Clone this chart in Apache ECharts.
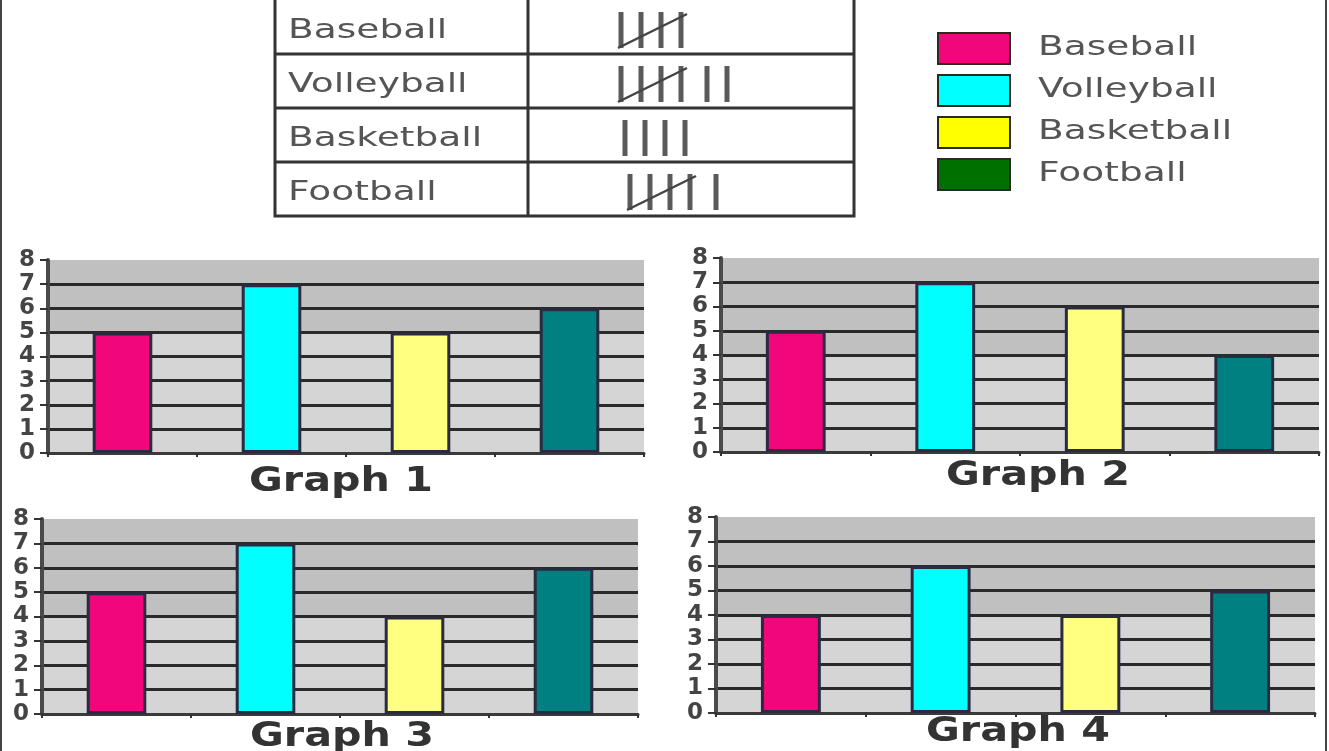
<!DOCTYPE html>
<html><head><meta charset="utf-8">
<script src="https://cdn.jsdelivr.net/npm/echarts@6/dist/echarts.min.js"></script>
<style>html,body{margin:0;padding:0;background:#fff}#chart{width:1329px;height:751px}</style>
</head><body><div id="chart"></div>
<script>
// ---- data ----
const categories = ['Baseball', 'Volleyball', 'Basketball', 'Football'];
const tallyCounts = [5, 7, 4, 6];
const graphTitles = ['Graph 1', 'Graph 2', 'Graph 3', 'Graph 4'];
const graph1Values = [5, 7, 5, 6];
const graph2Values = [5, 7, 6, 4];
const graph3Values = [5, 7, 4, 6];
const graph4Values = [4, 6, 4, 5];
const yAxisMin = 0;
const yAxisMax = 8;
const yAxisStep = 1;

// ---- styles / layout ----
const barColors = ['#f2067c', '#00ffff', '#ffff80', '#008080'];
const legendColors = ['#f2067c', '#00ffff', '#ffff00', '#007000'];
const graphValues = [graph1Values, graph2Values, graph3Values, graph4Values];
const layouts = [
  { left: 48, top: 260, width: 596, height: 193, tx: 341, ty: 482, darkFrom: 5 },
  { left: 721, top: 258, width: 598, height: 194, tx: 1038, ty: 476, darkFrom: 4 },
  { left: 42, top: 519, width: 596, height: 195, tx: 342, ty: 737, darkFrom: 4 },
  { left: 716, top: 517, width: 599, height: 196, tx: 1018, ty: 732, darkFrom: 4 }
];
const FONT = '"DejaVu Sans", Verdana, sans-serif';
const TEXT_SCALE = 1.39;

const grid = [], xAxis = [], yAxis = [], series = [], graphic = [];

layouts.forEach((L, i) => {
  grid.push({ left: L.left, top: L.top, width: L.width, height: L.height,
    show: true, backgroundColor: '#c4c4c4', borderWidth: 0 });
  const bands = [];
  for (let b = 0; b < (yAxisMax - yAxisMin) / yAxisStep; b++) bands.push(b < L.darkFrom ? '#d5d5d5' : '#c0c0c0');
  xAxis.push({ type: 'category', gridIndex: i, data: categories,
    axisLabel: { show: false },
    axisLine: { show: true, lineStyle: { color: '#3a3a3a', width: 3 } },
    axisTick: { show: true, length: 4, interval: 0, lineStyle: { color: '#333', width: 2 } },
    splitLine: { show: false } });
  yAxis.push({ type: 'value', gridIndex: i, min: yAxisMin, max: yAxisMax, interval: yAxisStep,
    axisLine: { show: true, lineStyle: { color: '#4a4a4a', width: 4 } },
    axisTick: { show: true, length: 8, lineStyle: { color: '#333', width: 2 } },
    axisLabel: { margin: 13, fontSize: 23, fontWeight: 'bold', color: '#444', fontFamily: FONT },
    splitLine: { show: true, showMaxLine: false, lineStyle: { color: '#2a2a2a', width: 3 } },
    splitArea: { show: true, areaStyle: { color: bands } } });
  series.push({ type: 'bar', xAxisIndex: i, yAxisIndex: i, barWidth: '40%', silent: true,
    itemStyle: { borderColor: '#2a2a40', borderWidth: 3 },
    data: graphValues[i].map((v, j) => ({ value: v, itemStyle: { color: barColors[j] } })) });
  graphic.push({ type: 'text', x: L.tx, y: L.ty, scaleX: 1.25,
    style: { text: graphTitles[i], font: 'bold 33px ' + FONT, fill: '#333',
      align: 'center', verticalAlign: 'middle', textAlign: 'center', textVerticalAlign: 'middle' } });
});

// ---- frame lines ----
graphic.push({ type: 'line', shape: { x1: 1, y1: 0, x2: 1, y2: 751 }, style: { stroke: '#444', lineWidth: 2 } });
graphic.push({ type: 'line', shape: { x1: 1326, y1: 0, x2: 1326, y2: 751 }, style: { stroke: '#444', lineWidth: 2 } });

// ---- tally table ----
const tableLeft = 275, tableRight = 854, tableSplit = 528, tableTop = 0, rowH = 54;
graphic.push({ type: 'rect', shape: { x: tableLeft, y: tableTop - 3, width: tableRight - tableLeft, height: rowH * 4 + 3 },
  style: { fill: 'none', stroke: '#333', lineWidth: 3 } });
graphic.push({ type: 'line', shape: { x1: tableSplit, y1: 0, x2: tableSplit, y2: rowH * 4 }, style: { stroke: '#333', lineWidth: 3 } });
for (let r = 1; r < 4; r++) {
  graphic.push({ type: 'line', shape: { x1: tableLeft, y1: tableTop + r * rowH, x2: tableRight, y2: tableTop + r * rowH },
    style: { stroke: '#333', lineWidth: 3 } });
}
const tallyLeft = 621, tallyStep = 20, tallyGroupGap = 86;
const tallyIndent = [0, 0, 4, 9];
categories.forEach((name, r) => {
  const rt = tableTop + r * rowH;
  graphic.push({ type: 'text', x: 288, y: rt + rowH / 2 + 4, scaleX: TEXT_SCALE,
    style: { text: name, font: '27px ' + FONT, fill: '#555', align: 'left', verticalAlign: 'middle',
      textAlign: 'left', textVerticalAlign: 'middle' } });
  const top = rt + 12, bottom = rt + rowH - 6;
  let x = tallyLeft + tallyIndent[r];
  let remaining = tallyCounts[r];
  while (remaining > 0) {
    const inGroup = Math.min(remaining, 5);
    const verticals = Math.min(inGroup, 4);
    for (let k = 0; k < verticals; k++) {
      graphic.push({ type: 'line', shape: { x1: x + k * tallyStep, y1: top, x2: x + k * tallyStep, y2: bottom },
        style: { stroke: '#5a5a5a', lineWidth: 5 } });
    }
    if (inGroup === 5) {
      graphic.push({ type: 'line', shape: { x1: x - 3, y1: bottom, x2: x + 3 * tallyStep + 6, y2: top + 2 },
        style: { stroke: '#444', lineWidth: 2.5 } });
    }
    remaining -= inGroup;
    x += tallyGroupGap;
  }
});

// ---- legend ----
categories.forEach((name, i) => {
  const y = 33 + i * 42;
  graphic.push({ type: 'rect', shape: { x: 938, y: y, width: 72, height: 31 },
    style: { fill: legendColors[i], stroke: '#2a2a20', lineWidth: 2 } });
  graphic.push({ type: 'text', x: 1038, y: y + 15, scaleX: TEXT_SCALE,
    style: { text: name, font: '27px ' + FONT, fill: '#555', align: 'left', verticalAlign: 'middle',
      textAlign: 'left', textVerticalAlign: 'middle' } });
});

const chart = echarts.init(document.getElementById('chart'));
chart.setOption({ animation: false, backgroundColor: '#ffffff', grid, xAxis, yAxis, series, graphic });
</script></body></html>
